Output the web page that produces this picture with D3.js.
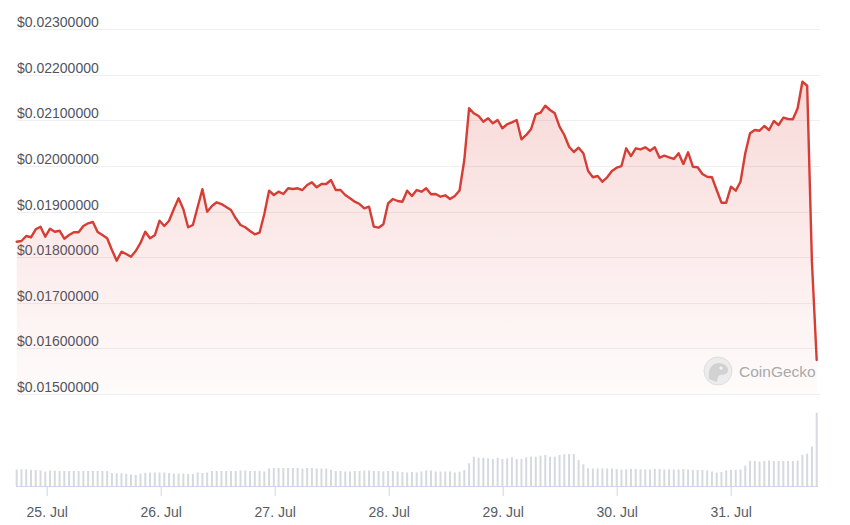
<!DOCTYPE html>
<html><head><meta charset="utf-8">
<script src="https://cdn.jsdelivr.net/npm/d3@7"></script>
<style>html,body{margin:0;padding:0;background:#fff;} svg{display:block;font-family:"Liberation Sans",Arial,sans-serif;}</style>
</head><body><svg id="chart" width="850" height="525"></svg>
<script>
// ---- data ----
const startTime = new Date(2024, 6, 24, 17, 41);
const stepMinutes = 60.15;
const prices = [
0.018338,0.018353,0.018463,0.018435,0.018610,0.018667,0.018448,0.018623,0.018557,0.018579,
0.018404,0.018485,0.018544,0.018544,0.018682,0.018741,0.018770,0.018551,0.018485,0.018413,
0.018156,0.017922,0.018119,0.018069,0.018009,0.018134,0.018310,0.018557,0.018413,0.018478,
0.018798,0.018682,0.018798,0.019055,0.019289,0.019048,0.018654,0.018704,0.019099,0.019487,
0.018996,0.019121,0.019202,0.019164,0.019099,0.019033,0.018851,0.018704,0.018654,0.018573,
0.018500,0.018535,0.018945,0.019456,0.019362,0.019434,0.019384,0.019509,0.019493,0.019509,
0.019471,0.019581,0.019640,0.019530,0.019603,0.019603,0.019690,0.019471,0.019471,0.019362,
0.019289,0.019215,0.019164,0.019070,0.019105,0.018667,0.018645,0.018719,0.019180,0.019274,
0.019230,0.019215,0.019456,0.019340,0.019471,0.019434,0.019509,0.019377,0.019384,0.019324,
0.019355,0.019274,0.019340,0.019460,0.020129,0.021262,0.021152,0.021093,0.020968,0.021043,
0.020933,0.021005,0.020824,0.020912,0.020955,0.021005,0.020582,0.020677,0.020802,0.021130,
0.021165,0.021319,0.021225,0.021152,0.020859,0.020677,0.020420,0.020304,0.020398,0.020276,
0.019888,0.019750,0.019778,0.019653,0.019750,0.019888,0.019960,0.019997,0.020385,0.020216,
0.020385,0.020363,0.020407,0.020333,0.020407,0.020179,0.020223,0.020188,0.020151,0.020276,
0.020041,0.020298,0.019982,0.019969,0.019822,0.019763,0.019750,0.019471,0.019193,0.019193,
0.019544,0.019456,0.019653,0.020276,0.020714,0.020786,0.020771,0.020874,0.020786,0.020983,
0.020896,0.021056,0.021027,0.021021,0.021262,0.021845,0.021757,0.017893,0.015745
];
const volumes = [
495,501,501,486,480,465,435,465,459,450,
450,450,450,450,450,450,450,450,450,450,
390,381,381,369,345,330,369,396,405,405,
405,405,390,375,375,375,360,360,405,390,
405,450,450,450,450,450,450,465,465,450,
450,450,435,525,540,540,540,540,540,540,
525,540,540,525,525,525,480,450,450,435,
435,450,450,465,465,450,450,435,450,450,
435,420,405,420,405,435,465,465,435,435,
435,435,405,429,480,681,879,849,849,831,
810,849,810,831,861,810,810,861,879,879,
909,930,879,879,930,951,960,960,780,651,
531,525,525,525,525,525,510,489,501,510,
510,501,495,495,510,510,495,495,495,495,
510,495,480,480,480,465,435,405,420,465,
480,489,495,609,750,750,735,750,765,750,
750,750,750,750,765,930,969,1185,2199
];
const priceTicks = [0.015,0.016,0.017,0.018,0.019,0.020,0.021,0.022,0.023];
const dayTicks = ["2024-07-25","2024-07-26","2024-07-27","2024-07-28","2024-07-29","2024-07-30","2024-07-31"];
const watermarkText = "CoinGecko";

// ---- chart ----
const svg = d3.select("#chart");
const times = prices.map((_, i) => new Date(startTime.getTime() + i * stepMinutes * 60000));
const series = prices.map((p, i) => ({t: times[i], p, v: volumes[i]}));
const dayDates = dayTicks.map(s => { const [a,b,c] = s.split("-").map(Number); return new Date(a, b-1, c); });

const x = d3.scaleTime().domain([dayDates[0], dayDates[6]]).range([46.7, 730.7]);
const y = d3.scaleLinear().domain([0.015, 0.023]).range([394, 29]);
const yv = d3.scaleLinear().domain([0, 2400]).range([486, 406]);

const defs = svg.append("defs");
const grad = defs.append("linearGradient").attr("id","fillGrad")
  .attr("gradientUnits","userSpaceOnUse").attr("x1",0).attr("x2",0).attr("y1",80).attr("y2",394);
grad.append("stop").attr("offset",0).attr("stop-color","rgb(217,67,59)").attr("stop-opacity",0.2);
grad.append("stop").attr("offset",1).attr("stop-color","rgb(217,67,59)").attr("stop-opacity",0.02);

// gridlines
svg.append("g").selectAll("line").data(priceTicks).join("line")
  .attr("x1", 17).attr("x2", 820)
  .attr("y1", d => Math.round(y(d)) + 0.5).attr("y2", d => Math.round(y(d)) + 0.5)
  .attr("stroke", "#efefef").attr("stroke-width", 1);

// y labels
svg.append("g").selectAll("text").data(priceTicks).join("text")
  .attr("x", 17).attr("y", d => y(d) - 2)
  .attr("font-size", 14).attr("fill", "#4f5561")
  .text(d => d3.format("$.8f")(d));

// area + line
svg.append("path").datum(series)
  .attr("d", d3.area().x(d => x(d.t)).y0(y(0.015)).y1(d => y(d.p)))
  .attr("fill", "url(#fillGrad)");
svg.append("path").datum(series)
  .attr("d", d3.line().x(d => x(d.t)).y(d => y(d.p)))
  .attr("fill", "none").attr("stroke", "#d63d35").attr("stroke-width", 2.4)
  .attr("stroke-linejoin", "round").attr("stroke-linecap","round");

// watermark
const wm = svg.append("g").attr("transform", "translate(718,371)");
wm.append("circle").attr("r", 14).attr("fill", "#ececec").attr("stroke","#dedede").attr("stroke-width",1);
wm.append("path").attr("d","M-9,8 C-10,0 -8,-7 0,-8 C6,-8 10,-5 10,-1 C10,3 6,4 2,4 C0,5 -1,8 -1,11 Z").attr("fill","#d2d2d2");
wm.append("circle").attr("cx",3).attr("cy",-3).attr("r",1.6).attr("fill","#f5f5f5");
svg.append("text").attr("x", 739).attr("y", 376.5).attr("font-size", 15.5)
  .attr("fill", "#a9a9a9").text(watermarkText);

// volume bars
svg.append("g").selectAll("rect").data(series).join("rect")
  .attr("x", d => x(d.t) - 1).attr("width", 2)
  .attr("y", d => yv(d.v)).attr("height", d => yv(0) - yv(d.v))
  .attr("fill", "#d6d9e0");

// x axis
svg.append("line").attr("x1", 16).attr("x2", 818).attr("y1", 486.5).attr("y2", 486.5)
  .attr("stroke", "#ccd6eb").attr("stroke-width", 1);
const xAxis = svg.append("g").attr("transform", "translate(0,486)")
  .call(d3.axisBottom(x).tickValues(dayDates).tickFormat(d3.timeFormat("%-d. %b")).tickSize(10).tickPadding(11));
xAxis.select(".domain").remove();
xAxis.selectAll(".tick line").attr("stroke", "#ccd6eb");
xAxis.selectAll(".tick text").attr("font-size", 14).attr("fill", "#555b66")
  .attr("font-family", "'Liberation Sans', Arial, sans-serif");
</script></body></html>
